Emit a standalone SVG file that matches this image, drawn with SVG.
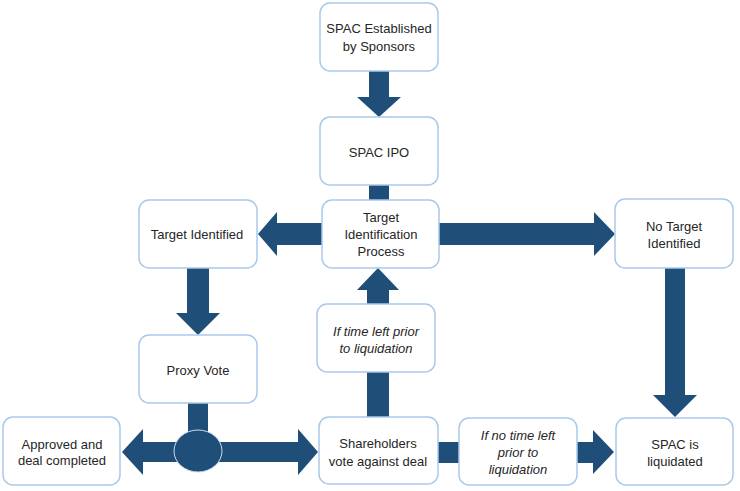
<svg xmlns="http://www.w3.org/2000/svg" width="740" height="491" viewBox="0 0 740 491">
<style>
.box{fill:#ffffff;stroke:#a9c9ea;stroke-width:1.5}
.arr{fill:#1f4e79}
text{font-family:"Liberation Sans",Arial,sans-serif;font-size:13px;fill:#262626;text-anchor:middle}
.it{font-style:italic}
</style>
<rect width="740" height="491" fill="#ffffff"/>
<g id="connectors">
<polygon class="arr" points="369,71 389,71 389,97 401,97 379,117 357,97 369,97"/>
<rect class="arr" x="369" y="184" width="20" height="17"/>
<polygon class="arr" points="323,223 277,223 277,212 258,234 277,256 277,245 323,245"/>
<polygon class="arr" points="439,223 594,223 594,212 615,234 594,256 594,245 439,245"/>
<polygon class="arr" points="665,268 685,268 685,395 697,395 675,417 653,395 665,395"/>
<polygon class="arr" points="187,268 209,268 209,313 220,313 198,335 176,313 187,313"/>
<rect class="arr" x="188" y="402" width="20" height="32"/>
<polygon class="arr" points="143,442 298,442 298,429 318,452 298,475 298,462 143,462 143,475 122,452 143,429"/>
<ellipse class="arr" cx="198" cy="451" rx="24" ry="21" stroke="#c9dcef" stroke-width="1"/>
<rect class="arr" x="367" y="371" width="22" height="47"/>
<polygon class="arr" points="367,305 367,290 357,290 378,268 399,290 389,290 389,305"/>
<rect class="arr" x="437" y="442" width="23" height="21"/>
<polygon class="arr" points="577,442 593,442 593,430 614,452 593,474 593,463 577,463"/>
</g>
<g id="n-established">
<rect class="box" x="320" y="3" width="118" height="68" rx="10"/>
<text x="379" y="33">SPAC Established</text>
<text x="379" y="51">by Sponsors</text>
</g>
<g id="n-ipo">
<rect class="box" x="320" y="117" width="118" height="68" rx="10"/>
<text x="379" y="157">SPAC IPO</text>
</g>
<g id="n-process">
<rect class="box" x="322" y="200" width="117" height="68" rx="10"/>
<text x="381" y="222">Target</text>
<text x="381" y="239">Identification</text>
<text x="381" y="256">Process</text>
</g>
<g id="n-identified">
<rect class="box" x="139" y="200" width="118" height="68" rx="10"/>
<text x="197" y="238.5">Target Identified</text>
</g>
<g id="n-notarget">
<rect class="box" x="615" y="199" width="118" height="69" rx="10"/>
<text x="674" y="230.5">No Target</text>
<text x="674" y="247.5">Identified</text>
</g>
<g id="n-proxy">
<rect class="box" x="139" y="335" width="118" height="68" rx="10"/>
<text x="198" y="374.5">Proxy Vote</text>
</g>
<g id="n-approved">
<rect class="box" x="3" y="417" width="117" height="68" rx="10"/>
<text x="62" y="448.5">Approved and</text>
<text x="62" y="464.5">deal completed</text>
</g>
<g id="n-timeleft">
<rect class="box" x="317" y="304" width="118" height="68" rx="10"/>
<text class="it" x="376" y="335.5">If time left prior</text>
<text class="it" x="376" y="352.5">to liquidation</text>
</g>
<g id="n-shareholders">
<rect class="box" x="319" y="417" width="119" height="67" rx="10"/>
<text x="378" y="447.5">Shareholders</text>
<text x="378" y="465.5">vote against deal</text>
</g>
<g id="n-notime">
<rect class="box" x="459" y="418" width="118" height="67" rx="10"/>
<text class="it" x="518" y="439.5">If no time left</text>
<text class="it" x="518" y="456.5">prior to</text>
<text class="it" x="518" y="473.5">liquidation</text>
</g>
<g id="n-liquidated">
<rect class="box" x="616" y="418" width="117" height="67" rx="10"/>
<text x="675" y="448.5">SPAC is</text>
<text x="675" y="465.5">liquidated</text>
</g>
</svg>
